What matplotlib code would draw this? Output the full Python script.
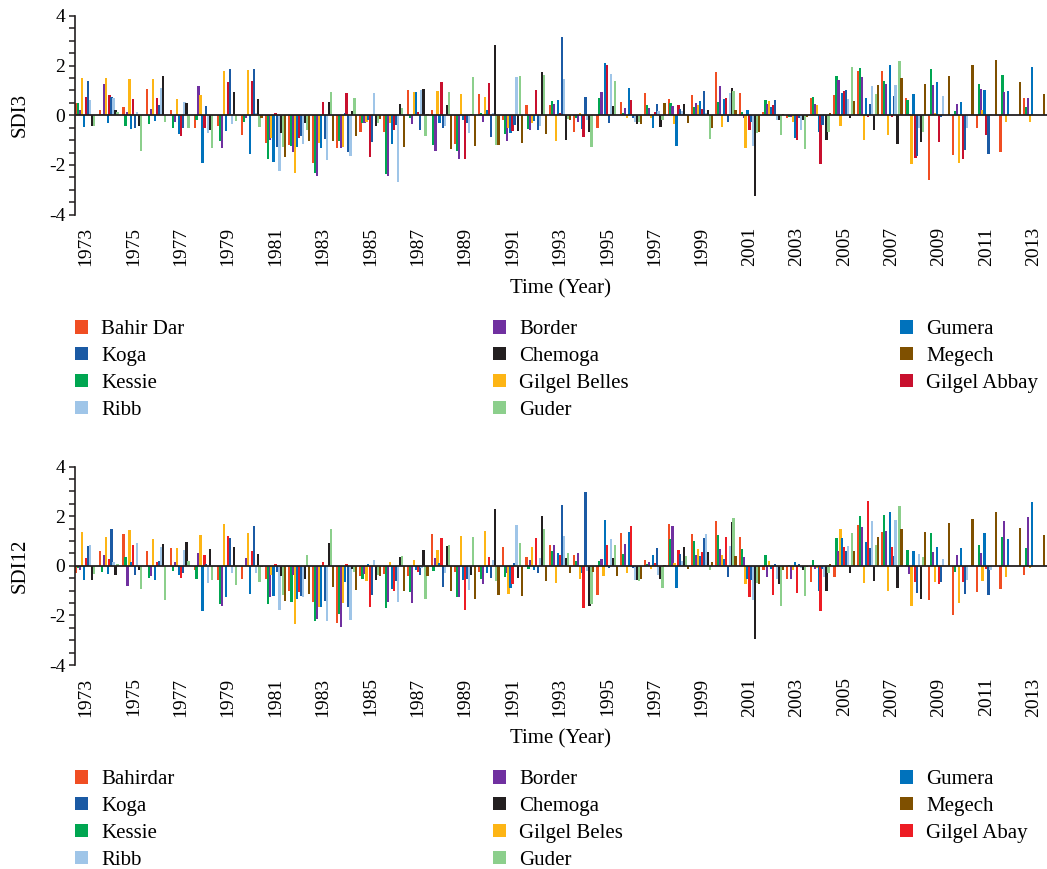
import numpy as np
import matplotlib.pyplot as plt
from matplotlib.patches import Patch
from matplotlib.ticker import MultipleLocator

plt.rcParams["font.family"] = ["Liberation Serif", "DejaVu Serif"]
plt.rcParams["axes.unicode_minus"] = False

years = np.arange(1973, 2014)

# SDI3 per station, 1973-2013
sdi3_bahir_dar = [0.5, 0.2, 0.35, 1.06, 0.2, -0.5, -0.42, -0.78, -1.1, -1.2,
                  -1.93, -1.33, -0.68, -0.68, 1.0, 0.2, -1.17, 0.87, -0.19, 0.42,
                  0.42, -0.68, -0.5, 0.55, 0.89, 0.66, 0.8, 1.76, 0.89, 0.15,
                  -0.1, 0.68, 0.82, 1.79, 1.8, 0.68, -2.59, -1.58, -0.52, -1.46, 0.71]
sdi3_kessie = [0.5, 0.05, -0.42, -0.35, -0.5, -0.2, -1.02, -0.25, -1.77, -1.22,
               -2.33, -1.03, -0.33, -2.37, -0.1, -1.2, -1.44, 0.1, -0.77, -0.55,
               0.58, -0.1, 0.7, 0.1, 0.42, 0.48, 0.35, 0.55, 0.13, 0.62,
               -0.05, 0.72, 1.58, 1.91, 1.37, 0.62, 1.85, 0.17, 1.25, 1.61, 0.32]
sdi3_border = [0.2, 1.25, 0.15, 0.25, -0.28, 1.17, -1.33, -0.1, -1.0, -1.46,
               -2.43, -1.3, -0.33, -2.43, -0.36, -1.44, -1.76, -0.25, -1.03, -0.6,
               0.46, -0.25, 0.95, 0.3, 0.3, 0.36, 0.5, 1.17, -0.12, 0.46,
               -0.05, 0.44, 1.44, 1.53, 1.28, 0.05, 1.22, 0.47, 1.06, 0.93, 0.7]
sdi3_gilgel_belles = [1.5, 1.52, 1.45, 1.45, 0.66, 0.83, 1.8, 1.81, -0.9, -2.32,
                      -1.1, -1.27, -0.25, -0.3, 0.93, 0.98, 0.87, 0.72, -0.52, -0.3,
                      -1.03, 0.1, 0.02, -0.1, -0.1, -0.36, 0.42, -0.46, -1.3, 0.56,
                      -0.28, 0.42, -0.42, -0.98, -0.78, -1.95, 0.08, -1.93, 0.2, -0.25, -0.28]
sdi3_gumera = [-0.47, -0.32, -0.55, -0.21, -0.75, -1.93, -0.63, -1.56, -1.9, -1.26,
               -1.33, 0.08, -0.2, -1.17, 0.93, -0.3, -0.19, 0.2, -0.7, -0.23,
               0.62, -0.54, 2.1, 1.11, -0.52, -1.22, 0.56, 0.66, 0.2, 0.32,
               -0.93, -0.66, 0.89, 0.68, 2.01, 0.85, 1.36, 0.52, 1.0, 0.98, 1.96]
sdi3_gilgel_abbay = [0.75, 0.82, 0.67, 0.68, -0.82, -0.5, 1.36, 1.37, 0.1, -0.9,
                     0.55, 0.9, -1.66, -0.6, 0.15, 1.33, -1.76, 1.31, -0.65, 1.0,
                     0.08, -0.86, 2.04, 0.6, 0.15, 0.43, 0.27, 0.68, -0.59, 0.42,
                     -0.99, -1.95, 0.98, -0.08, -0.08, -1.74, -1.06, -1.78, -0.8, 0, 0]
sdi3_koga = [1.38, 0.75, -0.52, 0.42, -0.52, 0.39, 1.85, 1.87, -1.26, -0.82,
             -0.95, -1.46, -1.06, -0.4, -0.6, -0.52, -0.3, -0.87, -0.4, -0.6,
             3.14, 0.72, -0.3, -0.12, 0.46, 0.26, 0.98, -0.28, -0.28, 0.6,
             -0.12, -0.4, 1.02, 0.46, 0.79, -1.64, -0.05, -1.38, -1.54, 0, 0]
sdi3_ribb = [0.62, 0.68, 0.15, 1.09, 0.52, -0.72, -0.35, 0.1, -2.23, -1.17,
             -1.8, -1.62, 0.91, -2.67, 1.03, -0.42, -0.7, 0.1, 1.54, -0.42,
             1.46, -0.2, 1.66, -0.28, 0.17, 0.17, 0.1, 0.9, -1.22, -0.19,
             -0.58, 0.05, 0.67, 1.18, 1.22, -0.5, 0.78, -0.5, 0.04, 0, 0]
sdi3_chemoga = [-0.45, 0.23, -0.42, 1.6, 0.5, -0.58, 0.93, 0.64, -0.72, -0.3,
                0.52, 0.17, -0.45, 0.47, 1.07, 0.43, 0.07, 2.82, -0.65, 1.76,
                -0.98, -0.66, 0.39, -0.36, -0.48, 0.44, 0.21, 1.11, -3.26, -0.19,
                -0.19, -1.0, -0.1, -0.6, -1.14, -1.06, 0, 0, 0, 0, 0]
sdi3_guder = [-0.45, 0.15, -1.44, -0.25, -0.52, -1.33, -0.23, -0.47, -1.29, -0.6,
              0.93, 0.7, -0.32, 0.28, -0.85, 0.93, 1.53, -1.2, 1.57, 1.64,
              -0.15, -1.26, 1.38, -0.25, -0.19, 0.05, -0.95, 0.98, -0.72, -0.79,
              -1.36, -0.67, 1.93, 0.87, 2.2, -0.66, 0, 0, 0, 0, 0]
sdi3_megech = [0, 0, 0, 0, 0, 0, 0, -0.1, -1.66, -1.03,
               -1.03, -0.83, -0.15, -1.27, 0.04, -1.36, -1.22, -1.2, -1.1, -0.77,
               -0.19, 0, 0.02, -0.36, 0.5, -0.3, -0.5, 0.2, -0.66, 0.05,
               -0.08, 0.08, 0.58, 1.22, 1.49, 1.25, 1.58, 2.01, 2.21, 1.36, 0.87]

# SDI12 per station, 1973-2013
sdi12_bahir_dar = [-0.29, 0.6, 1.27, 0.58, 0.71, -0.19, -0.56, -0.55, -0.52, -1.03,
                   -1.47, -2.32, -0.43, -0.34, -0.43, 1.27, -0.25, -0.25, 0.74, 0.36,
                   0.84, 0.44, -1.19, 1.33, 0.23, 1.68, 1.27, 1.81, 1.14, -0.16,
                   -0.52, -0.67, -0.44, 1.65, 1.38, 0.05, -1.38, -2.0, -1.06, -0.95, -0.39]
sdi12_kessie = [-0.1, -0.25, 0.35, -0.5, -0.2, -0.52, -1.53, 0.0, -1.54, -1.47,
                -2.24, -1.94, -0.52, -1.7, -1.06, -0.2, -1.27, -0.52, -0.47, -0.13,
                0.58, 0.2, 0.2, 0.48, 0.07, 1.09, 0.98, 1.25, 0.68, 0.42,
                0.05, 0.23, 1.11, 2.01, 2.05, 0.62, 1.3, -0.25, 0.84, 1.15, 0.7]
sdi12_border = [-0.19, 0.44, -0.8, -0.43, 0.15, 0.5, -1.64, 0.31, -1.26, -0.39,
                -2.13, -2.48, -0.32, -1.46, -1.51, 0.31, -1.27, -0.74, -0.29, 0.23,
                0.84, 0.5, 0.29, 0.87, 0.15, 1.6, 0.44, 0.68, 0.34, -0.44,
                -0.52, -0.13, 0.58, 1.57, 1.42, -0.34, 0.56, 0.42, 0.5, 1.82, 1.97]
sdi12_gilgel_belles = [1.38, 1.14, 1.46, 1.07, 0.71, 1.23, 1.68, 1.34, -0.39, -2.36,
                       -1.68, -1.51, -0.6, 0.15, 0.25, 0.64, 1.19, 1.39, -1.14, 0.75,
                       -0.7, -0.54, -0.43, -0.29, -0.13, 0.12, 0.66, 0.44, -0.72, 0.21,
                       -0.16, -0.1, 1.49, -0.7, -1.03, -1.61, -0.67, -1.51, -0.6, -0.46, -0.09]
sdi12_gumera = [-0.58, -0.32, 0.17, -0.58, -0.39, -1.84, -1.26, -1.14, -1.23, -1.33,
                -1.68, -0.66, 0.07, -0.92, -0.19, 0.11, -0.59, -0.3, -0.9, -0.19,
                0.52, -0.31, 1.84, 1.35, 0.42, -0.9, 0.38, 0.28, -0.54, -0.13,
                0.15, -1.03, 1.11, 0.95, 2.17, 0.58, 0.76, 0.7, 1.34, 1.06, 2.56]
sdi12_gilgel_abay = [0.31, 0.27, 0.84, 0.16, -0.51, 0.43, 1.19, 0.6, 0.08, -1.07,
                     0.17, 0.09, -1.65, -1.0, -0.25, 1.1, -1.78, 0.34, -0.74, 1.11,
                     0.44, -1.7, 0.84, 1.61, 0.1, 0.63, 0.54, 1.17, -1.27, -1.17,
                     -1.11, -1.81, 0.75, 2.59, 0.75, -0.67, -0.74, -0.67, -0.13, 0, 0]
sdi12_koga = [0.8, 1.49, -0.38, 0.2, -0.28, 0.09, 1.1, 1.62, -0.25, -1.23,
              -1.43, -1.68, -1.19, -0.6, -0.39, -0.87, -0.52, -0.5, 0.11, -0.31,
              2.45, 2.98, -0.11, -0.09, 0.72, 0.47, 1.13, -0.44, -0.59, 0.07,
              0.09, -0.13, 0.6, 0.7, 0.39, -1.1, -0.67, -1.15, -1.19, 0, 0]
sdi12_ribb = [0.83, 0.15, 0.91, 0.76, 0.62, -0.71, -0.29, -0.29, -1.8, -1.27,
              -2.21, -2.17, 0.23, -1.47, -0.1, -0.3, -0.97, 0.23, 1.66, 0.31,
              1.21, -0.2, 1.07, -0.56, -0.36, 0.2, 1.29, 0.79, -1.38, -0.52,
              -0.1, -0.44, 0.8, 1.81, 1.84, 0.48, 0.28, -0.58, -0.17, 0, 0]
sdi12_chemoga = [-0.59, -0.39, -0.16, 0.86, 0.95, 0.67, 0.76, 0.47, -0.43, -0.55,
                 0.92, -0.12, -0.58, 0.34, 0.63, 0.8, -0.36, 2.28, -0.5, 2.02,
                 0.31, -1.64, 0.31, -0.56, -0.52, 0.75, 0.56, 1.77, -2.95, -0.74,
                 -0.16, -1.03, -0.29, -0.63, -0.9, -1.34, 0, 0, 0, 0, 0]
sdi12_guder = [-0.34, 0.07, -0.94, -1.38, 0.2, -0.56, -0.76, -0.67, -1.17, 0.44,
               1.49, -0.25, -0.39, 0.39, -1.33, 0.84, 1.14, -0.6, 0.9, 1.49,
               0.51, -1.53, 0.84, -0.63, -0.9, 0.4, -0.19, 1.92, -0.7, -1.61,
               -1.23, -0.31, 1.3, 0.83, 2.4, 0.36, 0, 0, 0, 0, 0]
sdi12_megech = [0, 0, 0, 0, 0, 0, 0, -0.04, -1.43, -1.14,
                -0.87, -0.97, -0.43, -1.03, -0.43, -1.03, -1.33, -1.17, -1.21, -0.63,
                -0.29, -0.27, -0.4, -0.54, 0.02, -0.13, 0.15, 0.38, -0.72, -0.16,
                -0.07, 0.09, 0.59, 1.17, 1.49, 1.38, 1.73, 1.89, 2.16, 1.54, 1.25]

# colours keyed by station (order of the bars inside each year group below)
c_bahir = "#f04e23"
c_kessie = "#00a651"
c_border = "#7030a0"
c_belles = "#fdb515"
c_gumera = "#0072bc"
c_abbay = "#c8102e"
c_abay12 = "#ed1c24"
c_koga = "#1b5aa4"
c_ribb = "#9fc5e8"
c_chemoga = "#231f20"
c_guder = "#8ccf8c"
c_megech = "#7f5000"

labels_sdi3 = ["Bahir Dar", "Koga", "Kessie", "Ribb", "Border", "Chemoga",
               "Gilgel Belles", "Guder", "Gumera", "Megech", "Gilgel Abbay"]
labels_sdi12 = ["Bahirdar", "Koga", "Kessie", "Ribb", "Border", "Chemoga",
                "Gilgel Beles", "Guder", "Gumera", "Megech", "Gilgel Abay"]

W, H = 1047, 869
X0, X1 = 75, 1047
STEP = 0.0823
BAR_W = 0.095


def draw_panel(fig, top_px, bottom_px, series, colors, ylabel):
    ax = fig.add_axes([X0 / W, 1 - bottom_px / H, (X1 - X0) / W, (bottom_px - top_px) / H])
    for i, (vals, col) in enumerate(zip(series, colors)):
        ax.bar(years + (i - 5) * STEP, vals, width=BAR_W, color=col, linewidth=0, zorder=2)
    ax.axhline(0, color="#231f20", lw=1.3, zorder=3)

    x_left = years[0] - 5 * STEP - BAR_W / 2
    ax.set_xlim(x_left, x_left + (X1 - X0) / 23.7)
    ax.set_ylim(-4, 4)

    for side in ["top", "right", "bottom"]:
        ax.spines[side].set_visible(False)
    ax.spines["left"].set_linewidth(1.2)
    ax.spines["left"].set_color("#231f20")

    ax.yaxis.set_major_locator(MultipleLocator(2))
    ax.yaxis.set_minor_locator(MultipleLocator(0.5))
    ax.tick_params(axis="y", which="both", direction="out", length=4, width=1.1,
                   color="#231f20", labelsize=14, pad=3)
    ax.set_xticks(years[::2])
    ax.set_xticklabels([str(y) for y in years[::2]], rotation=90, fontsize=14)
    ax.tick_params(axis="x", length=0, pad=9)

    ax.set_ylabel(ylabel, fontsize=15)
    ax.yaxis.set_label_coords(-0.047, 0.5)
    ax.set_xlabel("Time (Year)", fontsize=15)
    ax.xaxis.set_label_coords(0.5, -0.325)
    return ax


def draw_legend(fig, labels, colors, top_px):
    handles = [Patch(facecolor=c, edgecolor="none") for c in colors]
    columns = [(0, 4, 75), (4, 8, 493), (8, 11, 900)]
    for start, stop, x_px in columns:
        fig.legend(handles[start:stop], labels[start:stop], loc="upper left",
                   bbox_to_anchor=(x_px / W, 1 - top_px / H), frameon=False,
                   fontsize=15, handlelength=0.63, handleheight=0.63,
                   handletextpad=0.63, labelspacing=0.37, borderpad=0,
                   borderaxespad=0)


fig = plt.figure(figsize=(W / 100, H / 100), dpi=100)

sdi3 = [sdi3_bahir_dar, sdi3_kessie, sdi3_border, sdi3_gilgel_belles, sdi3_gumera,
        sdi3_gilgel_abbay, sdi3_koga, sdi3_ribb, sdi3_chemoga, sdi3_guder, sdi3_megech]
colors3 = [c_bahir, c_kessie, c_border, c_belles, c_gumera, c_abbay,
           c_koga, c_ribb, c_chemoga, c_guder, c_megech]
draw_panel(fig, 16, 214.6, sdi3, colors3, "SDI3")
legend_colors3 = [c_bahir, c_koga, c_kessie, c_ribb, c_border, c_chemoga,
                  c_belles, c_guder, c_gumera, c_megech, c_abbay]
draw_legend(fig, labels_sdi3, legend_colors3, 320)

sdi12 = [sdi12_bahir_dar, sdi12_kessie, sdi12_border, sdi12_gilgel_belles, sdi12_gumera,
         sdi12_gilgel_abay, sdi12_koga, sdi12_ribb, sdi12_chemoga, sdi12_guder, sdi12_megech]
colors12 = [c_bahir, c_kessie, c_border, c_belles, c_gumera, c_abay12,
            c_koga, c_ribb, c_chemoga, c_guder, c_megech]
draw_panel(fig, 466.5, 665, sdi12, colors12, "SDI12")
legend_colors12 = [c_bahir, c_koga, c_kessie, c_ribb, c_border, c_chemoga,
                   c_belles, c_guder, c_gumera, c_megech, c_abay12]
draw_legend(fig, labels_sdi12, legend_colors12, 770)

fig.savefig("out.png", dpi=100)
